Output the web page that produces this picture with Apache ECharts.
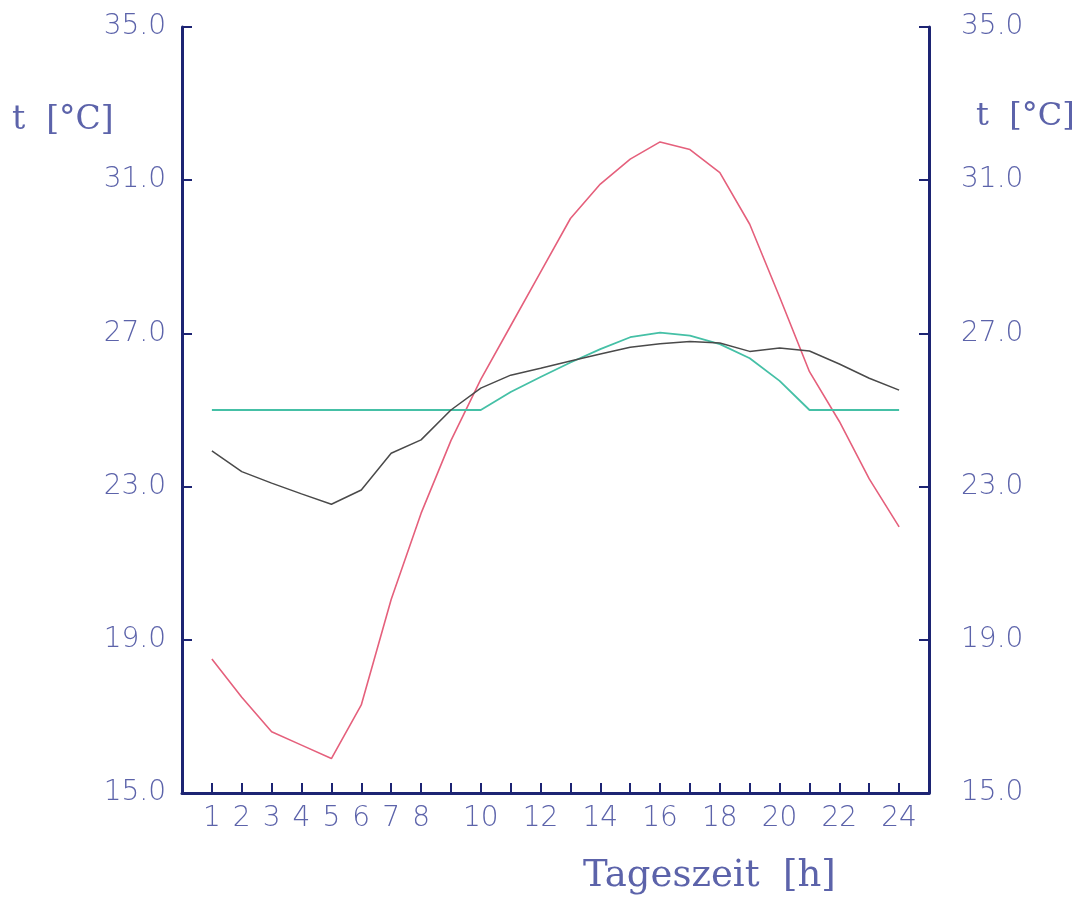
<!DOCTYPE html>
<html>
<head>
<meta charset="utf-8">
<script src="https://cdn.jsdelivr.net/npm/echarts@6/dist/echarts.min.js"></script>
<style>html,body{margin:0;padding:0;background:#fff}#c{width:1083px;height:900px}</style>
</head>
<body>
<div id="c"></div>
<script>
const hours = [1,2,3,4,5,6,7,8,9,10,11,12,13,14,15,16,17,18,19,20,21,22,23,24];
const outdoor = [18.5,17.5,16.6,16.25,15.9,17.3,20.05,22.3,24.2,25.8,27.2,28.6,30.0,30.9,31.55,32.0,31.8,31.2,29.85,27.95,26.0,24.7,23.2,21.95];
const indoorFree = [23.93,23.39,23.09,22.81,22.54,22.91,23.87,24.22,25.0,25.57,25.91,26.09,26.28,26.46,26.64,26.73,26.79,26.75,26.53,26.62,26.54,26.2,25.83,25.52];
const indoorCtrl = [25.0,25.0,25.0,25.0,25.0,25.0,25.0,25.0,25.0,25.0,25.47,25.86,26.24,26.59,26.9,27.02,26.94,26.72,26.35,25.76,25.0,25.0,25.0,25.0];
const xLabels = [1,2,3,4,5,6,7,8,10,12,14,16,18,20,22,24];
const yTicks = [15,19,23,27,31,35];

const axisColor = '#1d2473';
const textColor = '#5c63aa';
const tickFont = {fontFamily:'DejaVu Sans', fontSize:28, fontWeight:200, color:textColor};
const pairs = vals => hours.map((h,i)=>[h, vals[i]]);

const chart = echarts.init(document.getElementById('c'), null, {renderer:'canvas'});
const yBase = {
  type:'value', min:yTicks[0], max:yTicks[yTicks.length-1], interval:yTicks[1]-yTicks[0],
  splitLine:{show:false},
  axisLine:{show:true, lineStyle:{color:axisColor, width:3}},
  axisTick:{show:true, inside:true, length:10, lineStyle:{color:axisColor, width:2}},
};
chart.setOption({
  animation:false,
  backgroundColor:'#ffffff',
  grid:{left:182, right:154, top:27, bottom:107, containLabel:false},
  xAxis:{
    type:'value', min:0, max:25, interval:1,
    splitLine:{show:false},
    axisLine:{show:true, onZero:false, lineStyle:{color:axisColor, width:3}},
    axisTick:{show:true, inside:true, length:10, lineStyle:{color:axisColor, width:2}},
    axisLabel:Object.assign({margin:12, showMinLabel:true, showMaxLabel:true,
      formatter:v => xLabels.indexOf(v) >= 0 ? String(v) : ''}, tickFont)
  },
  yAxis:[
    Object.assign({}, yBase, {position:'left',
      axisLabel:Object.assign({margin:16, padding:[6,0,0,0], formatter:v=>v.toFixed(1)}, tickFont)}),
    Object.assign({}, yBase, {position:'right',
      axisLabel:Object.assign({margin:32, padding:[6,0,0,0], formatter:v=>v.toFixed(1)}, tickFont)})
  ],
  graphic:[
    {type:'text', left:12, top:104, style:{text:'t  [°C]', fontFamily:'DejaVu Serif', fontSize:33, fill:textColor}},
    {type:'text', left:976, top:101, style:{text:'t  [°C]', fontFamily:'DejaVu Serif', fontSize:32, fill:textColor}},
    {type:'text', left:583, top:858, style:{text:'Tageszeit  [h]', fontFamily:'DejaVu Serif', fontSize:37, fill:textColor}}
  ],
  series:[
    {name:'Außentemperatur', type:'line', data:pairs(outdoor), showSymbol:false, lineStyle:{color:'#e5607c', width:1.6}, itemStyle:{color:'#e5607c'}},
    {name:'Raum geregelt', type:'line', data:pairs(indoorCtrl), showSymbol:false, lineStyle:{color:'#45c0a6', width:1.8}, itemStyle:{color:'#45c0a6'}},
    {name:'Raum frei', type:'line', data:pairs(indoorFree), showSymbol:false, lineStyle:{color:'#4a4a4a', width:1.5}, itemStyle:{color:'#4a4a4a'}}
  ]
});
</script>
</body>
</html>
